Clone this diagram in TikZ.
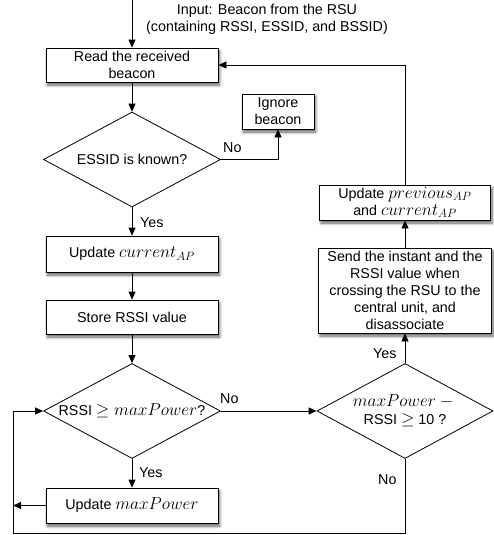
\documentclass[tikz,border=0pt]{standalone}
\usepackage{fontspec}
\setmainfont{Liberation Sans}
\usetikzlibrary{shapes.geometric,arrows.meta,shadows.blur}
\newcommand\mth[1]{{\fontsize{17.28}{17}\selectfont$#1$}}
\begin{document}
\begin{tikzpicture}[x=1pt,y=-1pt,
  font=\fontsize{14.3}{17}\selectfont,
  box/.style={draw=black, fill=white, line width=0.8pt, minimum width=172pt, align=center, inner sep=0pt,
    blur shadow={shadow xshift=1.5pt, shadow yshift=-3pt, shadow blur steps=6, shadow blur radius=3pt, shadow opacity=65}},
  dia/.style={draw=black, fill=white, diamond, minimum width=177pt, minimum height=95pt, inner sep=0pt, line width=0.8pt},
  arr/.style={-{Triangle[length=8pt,width=7pt]}, line width=0.8pt},
  lbl/.style={inner sep=0pt}]
\useasboundingbox (0,0) rectangle (493,535);
\coordinate (in) at (132,0);
\node[lbl, align=center] (input) at (267,19) {Input: Beacon from the RSU\\(containing RSSI, ESSID, and BSSID)};
\node[box, minimum height=34pt] (read) at (132,65) {Read the received\\beacon};
\node[dia, label={center:ESSID is known?}] (essid) at (132,159.5) {};
\node[box, minimum width=72pt, minimum height=35pt] (ignore) at (278,111.5) {Ignore\\beacon};
\node[box, minimum height=36pt] (updcur) at (132,254) {Update \mth{current_{AP}}};
\node[box, minimum height=34pt] (store) at (132,317) {Store RSSI value};
\node[dia, label={center:RSSI \mth{\geq maxPower}?}] (rssi) at (132,411) {};
\node[box, minimum height=35pt] (updmax) at (132,505.5) {Update \mth{maxPower}};
\node[dia, minimum width=176pt, label={[align=center, font=\fontsize{14.3}{18.5}\selectfont]center:{\mth{maxPower-{}}\\RSSI \mth{\geq} 10 ?}}] (maxd) at (405,411) {};
\node[box, minimum width=173pt, minimum height=85pt] (send) at (405,290.5) {Send the instant and the\\RSSI value when\\crossing the RSU to the\\central unit, and\\disassociate};
\node[box, minimum width=171pt, minimum height=35pt] (updprev) at (405,202.5) {Update \mth{previous_{AP}}\\and \mth{current_{AP}}};
\coordinate (lx) at (13,505.5);
\coordinate (bl) at (13,533);
\coordinate (tl) at (13,411);
% labels
\node[lbl, anchor=base west] (no1) at (223,152) {No};
\node[lbl, anchor=base west] (yes1) at (140,227) {Yes};
\node[lbl, anchor=base west] (no2) at (220,403) {No};
\node[lbl, anchor=base west] (yes2) at (139,477) {Yes};
\node[lbl, anchor=base west] (yes3) at (373,358) {Yes};
\node[lbl, anchor=base west] (no3) at (378,484) {No};
% connectors
\draw[arr] (in) -- (read);
\draw[arr] (read) -- (essid);
\draw[arr] (essid.east) -| (ignore.south);
\draw[arr] (essid.south) -- (updcur.north);
\draw[arr] (updcur) -- (store);
\draw[arr] (store) -- (rssi.north);
\draw[arr] (rssi.east) -- (maxd.west);
\draw[arr] (rssi.south) -- (updmax.north);
\draw[arr] (updmax.west) -- (lx);
\draw[arr] (maxd.south) |- (bl) -- (tl) -- (rssi.west);
\draw[arr] (maxd.north) -- (send.south);
\draw[arr] (send.north) -- (updprev.south);
\draw[arr] (updprev.north) |- (read.east);
\end{tikzpicture}
\end{document}
